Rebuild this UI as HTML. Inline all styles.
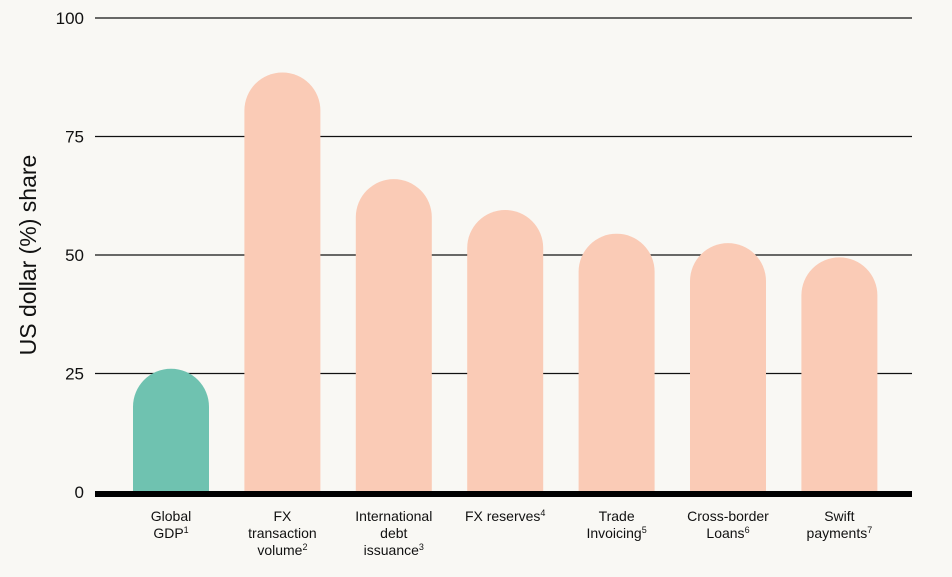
<!DOCTYPE html>
<html><head><meta charset="utf-8"><style>
html,body{margin:0;padding:0;background:#f9f8f4;}
svg{display:block;font-family:"Liberation Sans",Arial,sans-serif;}
</style></head><body>
<svg width="952" height="577" viewBox="0 0 952 577">
<rect width="952" height="577" fill="#f9f8f4"/>
<g id="grid"></g><g id="bars"></g><g id="labels"></g>
<text x="0" y="0" transform="translate(36,255) rotate(-90)" text-anchor="middle" font-size="23" fill="#111">US dollar (%) share</text>
</svg>
<script>
const categories=[["Global","GDP","1"],["FX","transaction","volume","2"],["International","debt","issuance","3"],["FX reserves","4"],["Trade","Invoicing","5"],["Cross-border","Loans","6"],["Swift","payments","7"]];
const values=[26,88.5,66,59.5,54.5,52.5,49.5];
const colors=["#6fc2b0","#facbb6","#facbb6","#facbb6","#facbb6","#facbb6","#facbb6"];
const ticks=[0,25,50,75,100];
const NS="http://www.w3.org/2000/svg";
const y=v=>492-v*4.74;
const x=i=>171+i*111.4;
const BW=76;
function mk(t,a,p){const e=document.createElementNS(NS,t);for(const k in a)e.setAttribute(k,a[k]);p.appendChild(e);return e;}
const g=document.getElementById('grid'),b=document.getElementById('bars'),l=document.getElementById('labels');
ticks.forEach(t=>{
 if(t>0){const ln=mk('line',{x1:95,x2:912,y1:y(t),y2:y(t),stroke:'#111','stroke-width':1.2},g);
 
 }
 const tx=mk('text',{x:84,y:y(t)+6,'text-anchor':'end','font-size':17,fill:'#111'},g);tx.textContent=t;
 
 
});
values.forEach((v,i)=>{
 const cx=x(i),r=BW/2,top=y(v),x0=cx-r,x1=cx+r;
 const p=mk('path',{d:`M${x0},492 L${x0},${top+r} A${r},${r} 0 0 1 ${x1},${top+r} L${x1},492 Z`,fill:colors[i]},b);
 
 
 const c=categories[i],sup=c[c.length-1],lines=c.slice(0,-1);
 const t=mk('text',{'text-anchor':'middle','font-size':14,fill:'#111'},l);
 
 
 lines.forEach((s,j)=>{const ts=mk('tspan',{x:cx,y:521+j*17},t);ts.textContent=s;
  if(j===lines.length-1){const sp=mk('tspan',{'font-size':9,dy:-5},t);sp.textContent=sup;}});
});
const base=mk('rect',{x:95,y:491,width:817,height:6,fill:'#000'},g.parentNode);


</script>
</body></html>
